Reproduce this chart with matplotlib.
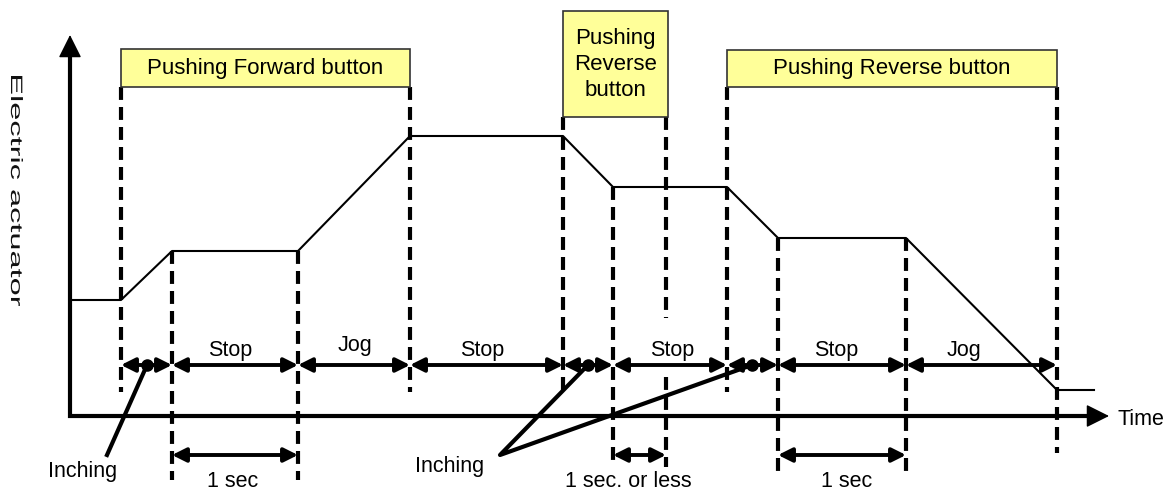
import matplotlib
matplotlib.use("Agg")
import matplotlib.pyplot as plt
from matplotlib.patches import Rectangle, PathPatch
from matplotlib.textpath import TextPath
from matplotlib.font_manager import FontProperties
from matplotlib.transforms import Affine2D

plt.rcParams['font.family'] = ['Liberation Sans', 'DejaVu Sans']

# actuator position over time (x = time, y = drawn height, downwards)
act_t = [70, 121, 172, 298, 410, 563, 613, 727, 778, 906, 1057, 1094]
act_y = [300, 300, 251, 251, 136, 136, 187, 187, 238, 238, 390, 390]

# boundaries of the phase arrows and their names
phase_t = [121, 172, 298, 410, 563, 613, 727, 778, 906, 1057]
phase_names = ['Stop', 'Jog', 'Stop', 'Stop', 'Stop', 'Jog']
phase_name_x = [230, 355, 482, 672, 836, 964]
phase_name_y = [356, 351, 356, 356, 356, 356]
inching_t = [147, 588, 752]

# dashed guide lines
guide_t = [121, 172, 298, 410, 563, 613, 666, 666, 727, 778, 906, 1057]
guide_top = [87, 251, 251, 87, 117, 187, 117, 377, 87, 238, 238, 87]
guide_bot = [392, 480, 480, 392, 392, 467, 318, 467, 392, 478, 478, 453]

# button boxes
btn_text = ['Pushing Forward button', 'Pushing\nReverse\nbutton', 'Pushing Reverse button']
btn_x0 = [121, 563, 727]
btn_x1 = [410, 668, 1057]
btn_y0 = [49, 11, 50]
btn_y1 = [87, 117, 87]

# time brackets
sec_t0 = [172, 613, 778]
sec_t1 = [298, 666, 906]
sec_text = ['1 sec', '1 sec. or less', '1 sec']
sec_text_x = [233, 628, 847]

fig = plt.figure(figsize=(11.7, 4.91), dpi=100)
ax = fig.add_axes([0, 0, 1, 1])
ax.set_xlim(0, 1170)
ax.set_ylim(491, 0)
ax.axis('off')

# axes with arrows
ax.plot([70, 70, 1095], [50, 416, 416], color='black', lw=3,
        solid_joinstyle='miter', solid_capstyle='butt')
head = dict(arrowstyle='-|>,head_length=0.9,head_width=0.45', lw=1,
            color='black', mutation_scale=16, shrinkA=0, shrinkB=0)
ax.annotate('', xy=(70, 35), xytext=(70, 60), arrowprops=head)
ax.annotate('', xy=(1109, 416), xytext=(1084, 416), arrowprops=head)
ax.text(1117, 425, 'Time', fontsize=15.5, va='baseline', ha='left')

# y label, stretched like the original
tp = TextPath((0, 0), 'Electric actuator', size=16.5,
              prop=FontProperties(family='Liberation Sans'))
ext = tp.get_extents()
sx = 230 / ext.width
tr = Affine2D().translate(-ext.x0, 0).scale(sx, 1).rotate_deg(-90).translate(11, 491 - 76)
ax.add_patch(PathPatch(tp, transform=tr, facecolor='#111111', lw=0))

# dashed guides
for t, y0, y1 in zip(guide_t, guide_top, guide_bot):
    ax.plot([t, t], [y0, y1], color='black', lw=3,
            linestyle=(0, (3.1, 1.7)), dash_capstyle='butt', zorder=2)

# actuator
ax.plot(act_t, act_y, color='black', lw=1.5, zorder=3)

# buttons
for txt, x0, x1, y0, y1 in zip(btn_text, btn_x0, btn_x1, btn_y0, btn_y1):
    ax.add_patch(Rectangle((x0, y0), x1 - x0, y1 - y0, facecolor='#ffff99',
                           edgecolor='#333333', lw=1.2, zorder=4))
    lines = txt.split('\n')
    yc = (y0 + y1) / 2
    for i, line in enumerate(lines):
        ax.text((x0 + x1) / 2, yc + (i - (len(lines) - 1) / 2) * 26, line,
                fontsize=16, ha='center', va='center', zorder=5)

# phase arrows
arrow_y = 365
for a, b in zip(phase_t[:-1], phase_t[1:]):
    ax.annotate('', xy=(b, arrow_y), xytext=(a, arrow_y),
                arrowprops=dict(arrowstyle='<|-|>,head_length=0.6,head_width=0.3',
                                lw=2.8, color='black', mutation_scale=14,
                                shrinkA=0, shrinkB=0), zorder=4)
for name, x, y in zip(phase_names, phase_name_x, phase_name_y):
    ax.text(x, y, name, fontsize=15.5, ha='center', va='baseline')

ax.plot(inching_t, [arrow_y] * len(inching_t), 'o', color='black', ms=8, zorder=5)

# inching callouts
ax.plot([inching_t[0], 107], [arrow_y, 455], color='black', lw=3)
ax.plot([inching_t[1], 500, inching_t[2]], [arrow_y, 455, arrow_y], color='black', lw=3)
ax.text(83, 477, 'Inching', fontsize=15.5, ha='center', va='baseline')
ax.text(450, 472, 'Inching', fontsize=15.5, ha='center', va='baseline')

# time brackets
for a, b, txt, x in zip(sec_t0, sec_t1, sec_text, sec_text_x):
    ax.annotate('', xy=(b, 455), xytext=(a, 455),
                arrowprops=dict(arrowstyle='<|-|>,head_length=0.6,head_width=0.3',
                                lw=2.8, color='black', mutation_scale=14,
                                shrinkA=0, shrinkB=0))
    ax.text(x, 487, txt, fontsize=15.5, ha='center', va='baseline')

fig.savefig('out.png', dpi=100)
